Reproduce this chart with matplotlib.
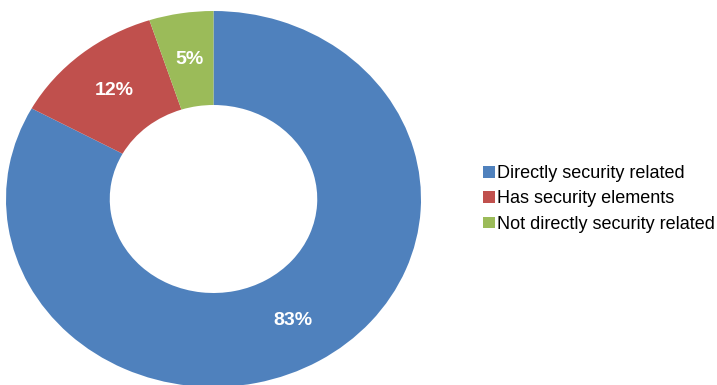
import matplotlib
matplotlib.use("Agg")
import matplotlib.pyplot as plt
from matplotlib.patches import Patch

categorias = ["Directly security related", "Has security elements", "Not directly security related"]
porcentajes = [83, 12, 5]
colores = ["#4F81BD", "#C0504D", "#9BBB59"]

plt.rcParams["font.family"] = ["Liberation Sans", "DejaVu Sans"]


def dibujar_dona(ax):
    wedges, textos, autotextos = ax.pie(
        porcentajes,
        colors=colores,
        startangle=90,
        counterclock=False,
        radius=1.0,
        autopct="%d%%",
        pctdistance=0.75,
        wedgeprops=dict(width=0.5, linewidth=0),
        textprops=dict(color="white", fontsize=14, fontweight="bold"),
    )
    # la dona va un poco estirada en horizontal
    ax.set_aspect("auto")
    ax.set_xlim(-1, 1)
    ax.set_ylim(-1, 1)
    ax.axis("off")
    return wedges


def main():
    fig = plt.figure(figsize=(7.17, 3.85), dpi=100)
    ax = fig.add_axes([6 / 717, -2 / 385, 415 / 717, 376 / 385])
    dibujar_dona(ax)

    handles = [Patch(facecolor=c, edgecolor="none") for c in colores]
    fig.legend(
        handles,
        categorias,
        loc="center left",
        bbox_to_anchor=(474 / 717, 1 - 199 / 385),
        frameon=False,
        fontsize=13,
        borderpad=0,
        handlelength=0.65,
        handleheight=0.6,
        handletextpad=0.15,
        labelspacing=0.45,
    )

    fig.savefig("out.png", dpi=100)


if __name__ == "__main__":
    main()
